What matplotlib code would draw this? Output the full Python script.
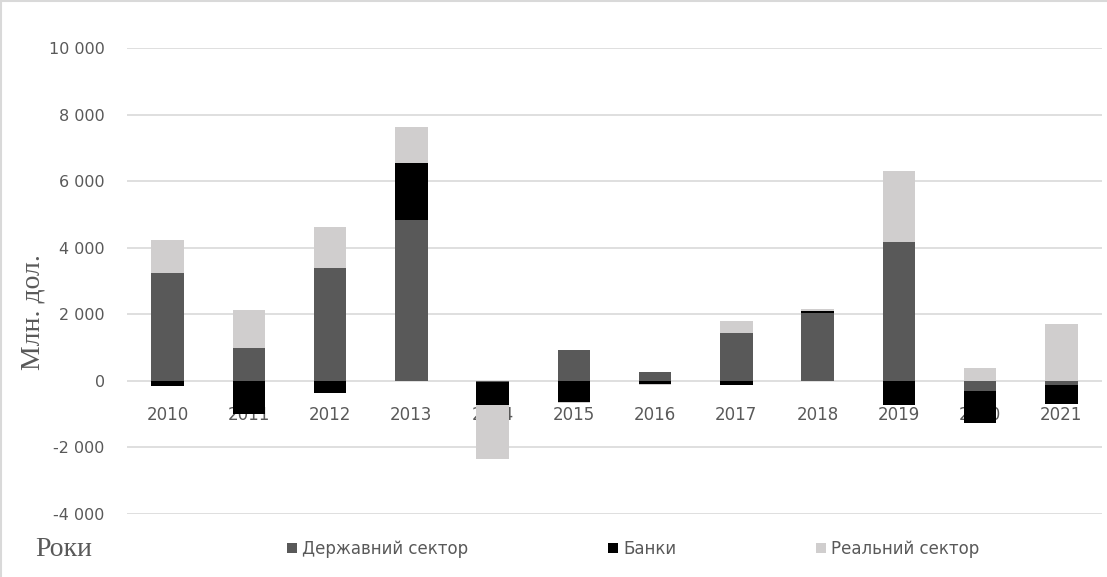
import numpy as np
import matplotlib.pyplot as plt
from matplotlib.lines import Line2D

# values, mln USD
years = ["2010", "2011", "2012", "2013", "2014", "2015",
         "2016", "2017", "2018", "2019", "2020", "2021"]
state = [3240, 1000, 3400, 4830, -20, 930, 270, 1450, 2040, 4170, -300, -120]
banks = [-150, -1000, -360, 1730, -720, -640, -80, -120, 60, -730, -960, -570]
real = [1000, 1130, 1220, 1060, -1620, -20, -50, 350, 60, 2130, 390, 1710]

series = [("Державний сектор", state, "#595959"),
          ("Банки", banks, "#000000"),
          ("Реальний сектор", real, "#d0cece")]

yticks = [-4000, -2000, 0, 2000, 4000, 6000, 8000, 10000]
tick_color = "#595959"
grid_color = "#d9d9d9"

fig = plt.figure(figsize=(11.07, 5.77), dpi=100)
ax = fig.add_axes([127 / 1107, 63 / 577, 975 / 1107, 466 / 577])

x = np.arange(len(years))
pos_base = np.zeros(len(years))
neg_base = np.zeros(len(years))
handles = []
for name, vals, color in series:
    vals = np.array(vals, dtype=float)
    # Excel-style stacking: positives grow up from 0, negatives grow down
    bottoms = np.where(vals >= 0, pos_base, neg_base)
    b = ax.bar(x, vals, width=0.4, bottom=bottoms, color=color, label=name, zorder=3)
    handles.append(b)
    pos_base += np.where(vals >= 0, vals, 0)
    neg_base += np.where(vals < 0, vals, 0)

ax.set_xlim(-0.5, len(years) - 0.5)
ax.set_ylim(-4000, 10000)
ax.set_yticks(yticks)
ax.set_yticklabels([f"{v:,}".replace(",", " ") for v in yticks])
ax.yaxis.grid(True, color=grid_color, linewidth=1.2, zorder=0)
ax.set_axisbelow(True)

ax.set_xticks(x)
ax.set_xticklabels(years)
ax.spines["bottom"].set_position(("data", 0))
for s in ax.spines.values():
    s.set_visible(False)
ax.tick_params(axis="x", length=0, pad=18, labelsize=12, labelcolor=tick_color)
ax.tick_params(axis="y", length=0, pad=16, labelsize=11.5, labelcolor=tick_color)

fig.text(33 / 1107, 1 - 312 / 577, "Млн. дол.", rotation=90, ha="center", va="center",
         family="Liberation Serif", fontsize=20, color="#595959")
fig.text(35 / 1107, 1 - 550 / 577, "Роки", ha="left", va="center",
         family="Liberation Serif", fontsize=20, color="#595959")

leg = fig.legend(handles=handles, loc="center left", bbox_to_anchor=(272 / 1107, 1 - 549 / 577),
                 ncol=3, frameon=False, fontsize=12, handlelength=0.6, handleheight=0.6,
                 handletextpad=0.3, columnspacing=8.4, labelcolor=tick_color)

# light chart-area border (left and top edges visible in the crop)
fig.add_artist(Line2D([0.001, 0.001], [0, 1], transform=fig.transFigure, color=grid_color, lw=1.5))
fig.add_artist(Line2D([0, 1], [0.999, 0.999], transform=fig.transFigure, color=grid_color, lw=1.5))

fig.savefig("out.png", dpi=100)
